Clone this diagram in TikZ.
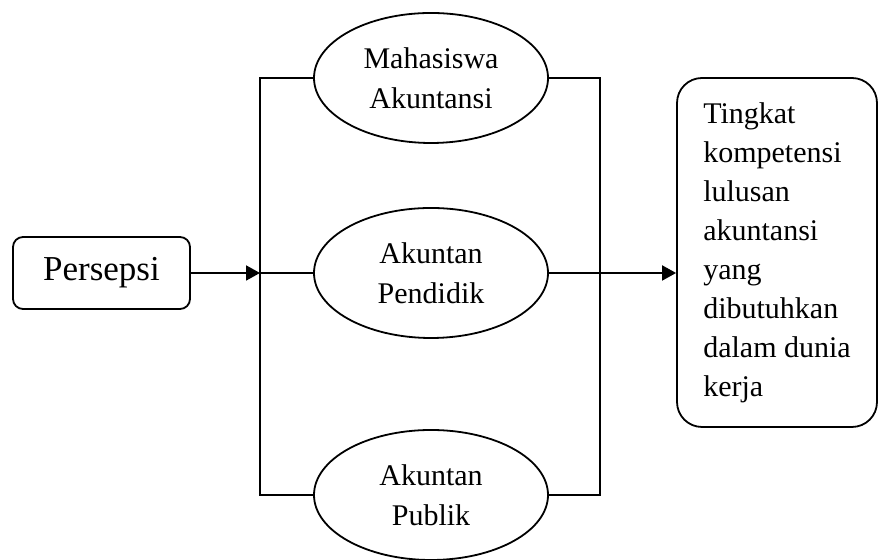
\documentclass[tikz,border=0pt]{standalone}
\usepackage{fontspec}
\setmainfont{Liberation Serif}
\usetikzlibrary{shapes.geometric,arrows.meta}
\begin{document}
\begin{tikzpicture}[x=0.5pt,y=0.5pt,line width=0.9pt,
  persbox/.style={draw,rounded corners=5pt,minimum width=88.5pt,minimum height=36pt,font=\fontsize{17.5}{21}\selectfont},
  grup/.style={draw,ellipse,minimum width=117pt,minimum height=65pt,inner sep=0pt,align=center,font=\fontsize{15}{20}\selectfont},
  hasil/.style={draw,rounded corners=12.5pt,minimum width=100pt,minimum height=174.5pt,align=left,font=\fontsize{15}{19.5}\selectfont},
  panah/.style={-{Triangle[length=7pt,width=7.5pt]}}]
\useasboundingbox (0,0) rectangle (878,560);
\pgfmathsetmacro{\kbusl}{260}
\pgfmathsetmacro{\kbusr}{600}
\pgfmathsetmacro{\kex}{431}
\pgfmathsetmacro{\kya}{482}
\pgfmathsetmacro{\kyb}{287}
\pgfmathsetmacro{\kyc}{65}
% nodes
\node[persbox](pers) at (101.5,\kyb){Persepsi};
\node[grup](mhs) at (\kex,\kya){Mahasiswa\\Akuntansi};
\node[grup](didik) at (\kex,\kyb){Akuntan\\Pendidik};
\node[grup](publik) at (\kex,\kyc){Akuntan\\Publik};
\node[hasil](kerja) at (777,307.5){Tingkat\\kompetensi\\lulusan\\akuntansi\\yang\\dibutuhkan\\dalam dunia\\kerja};
% bus lines
\coordinate(lbtop) at (\kbusl,\kya);
\coordinate(lbmid) at (\kbusl,\kyb);
\coordinate(lbbot) at (\kbusl,\kyc);
\coordinate(rbtop) at (\kbusr,\kya);
\coordinate(rbbot) at (\kbusr,\kyc);
\draw(mhs.west)--(lbtop)--(lbbot)--(publik.west);
\draw(mhs.east)--(rbtop)--(rbbot)--(publik.east);
\draw[panah](pers.east)--(lbmid);
\draw(lbmid)--(didik.west);
\draw[panah](didik.east)--(kerja.west|-didik.east);
\end{tikzpicture}
\end{document}
